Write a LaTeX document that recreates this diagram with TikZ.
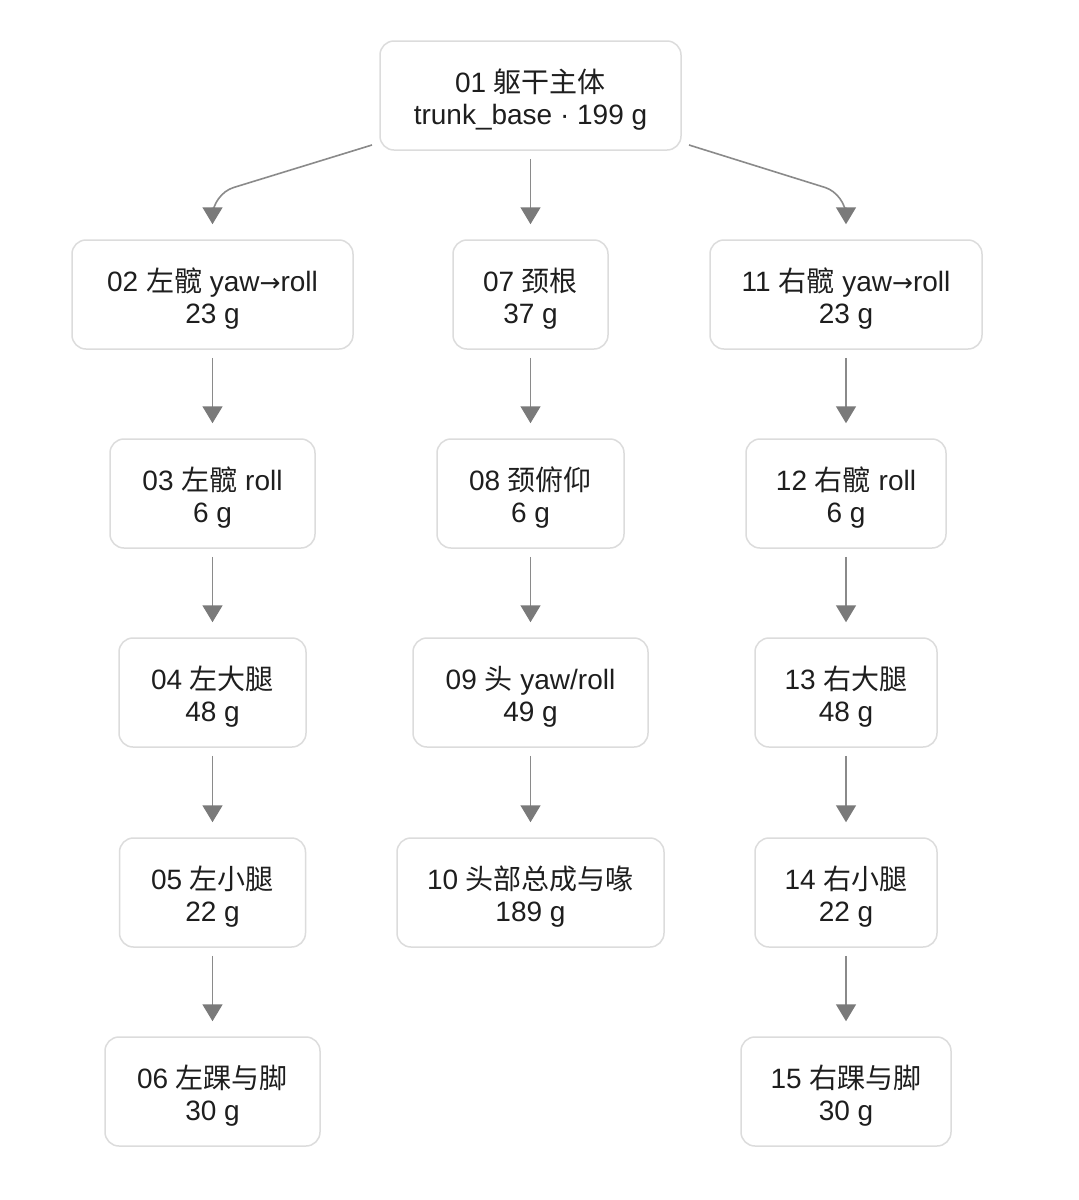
\documentclass[tikz,border=0pt]{standalone}
\usepackage{fontspec}
\setmainfont{Liberation Sans}
\newfontfamily\cjk{Noto Sans CJK SC}
\newfontfamily\arrfont{DejaVu Sans}
\usetikzlibrary{arrows.meta}
\definecolor{boxline}{HTML}{DCDCDC}
\definecolor{txt}{HTML}{1E1E1E}
\definecolor{arrline}{HTML}{8A8A8A}
\definecolor{arrhead}{HTML}{7A7A7A}
\newcommand\tsA{\vrule height 32pt depth 0pt width 0pt}
\newcommand\tsB{\vrule height 0pt depth 6.5pt width 0pt}
\newcommand\yarr{{\arrfont\fontsize{25}{30}\selectfont →}}
\tikzset{
  part/.style={draw=boxline, line width=1.5pt, rounded corners=14pt, fill=white,
    minimum height=109pt, inner sep=0pt, align=center, text=txt,
    font=\fontsize{28}{32.5}\selectfont},
  arr/.style={draw=arrline, line width=1.6pt,
    -{Triangle[width=20pt,length=17pt,fill=arrhead,color=arrhead]},
    shorten <=8pt, shorten >=15pt},
}
\begin{document}
\begin{tikzpicture}[x=1pt,y=-1pt]
\useasboundingbox (0,0) rectangle (1079,1200);
\fill[white] (0,0) rectangle (1079,1200);
% row 1
\node[part, minimum width=301pt] (n01) at (530.5,95.5) {\tsA 01 {\cjk 躯干主体}\\trunk\_base · 199 g\tsB};
% row 2
\node[part, minimum width=281pt] (n02) at (212.5,294.5) {\tsA 02 {\cjk 左髋} yaw\yarr roll\\23 g\tsB};
\node[part, minimum width=155pt] (n07) at (530.5,294.5) {\tsA 07 {\cjk 颈根}\\37 g\tsB};
\node[part, minimum width=272pt] (n11) at (846,294.5) {\tsA 11 {\cjk 右髋} yaw\yarr roll\\23 g\tsB};
% row 3
\node[part, minimum width=205pt] (n03) at (212.5,493.5) {\tsA 03 {\cjk 左髋} roll\\6 g\tsB};
\node[part, minimum width=187pt] (n08) at (530.5,493.5) {\tsA 08 {\cjk 颈俯仰}\\6 g\tsB};
\node[part, minimum width=200pt] (n12) at (846,493.5) {\tsA 12 {\cjk 右髋} roll\\6 g\tsB};
% row 4
\node[part, minimum width=187pt] (n04) at (212.5,692.5) {\tsA 04 {\cjk 左大腿}\\48 g\tsB};
\node[part, minimum width=235pt] (n09) at (530.5,692.5) {\tsA 09 {\cjk 头} yaw/roll\\49 g\tsB};
\node[part, minimum width=182pt] (n13) at (846,692.5) {\tsA 13 {\cjk 右大腿}\\48 g\tsB};
% row 5
\node[part, minimum width=186pt] (n05) at (212.5,892.5) {\tsA 05 {\cjk 左小腿}\\22 g\tsB};
\node[part, minimum width=267pt] (n10) at (530.5,892.5) {\tsA 10 {\cjk 头部总成与喙}\\189 g\tsB};
\node[part, minimum width=182pt] (n14) at (846,892.5) {\tsA 14 {\cjk 右小腿}\\22 g\tsB};
% row 6
\node[part, minimum width=215pt] (n06) at (212.5,1091.5) {\tsA 06 {\cjk 左踝与脚}\\30 g\tsB};
\node[part, minimum width=210pt] (n15) at (846,1091.5) {\tsA 15 {\cjk 右踝与脚}\\30 g\tsB};
% top branching arrows
\coordinate (sL) at (372,145);
\coordinate (sR) at (689,145);
\draw[arr, shorten <=0pt, rounded corners=22pt] (sL) -- (212.5,194) -- (n02.north);
\draw[arr, shorten <=0pt, rounded corners=22pt] (sR) -- (846,194) -- (n11.north);
\draw[arr] (n01.south) -- (n07.north);
% columns
\draw[arr] (n02) -- (n03);
\draw[arr] (n03) -- (n04);
\draw[arr] (n04) -- (n05);
\draw[arr] (n05) -- (n06);
\draw[arr] (n07) -- (n08);
\draw[arr] (n08) -- (n09);
\draw[arr] (n09) -- (n10);
\draw[arr] (n11) -- (n12);
\draw[arr] (n12) -- (n13);
\draw[arr] (n13) -- (n14);
\draw[arr] (n14) -- (n15);
\end{tikzpicture}
\end{document}
